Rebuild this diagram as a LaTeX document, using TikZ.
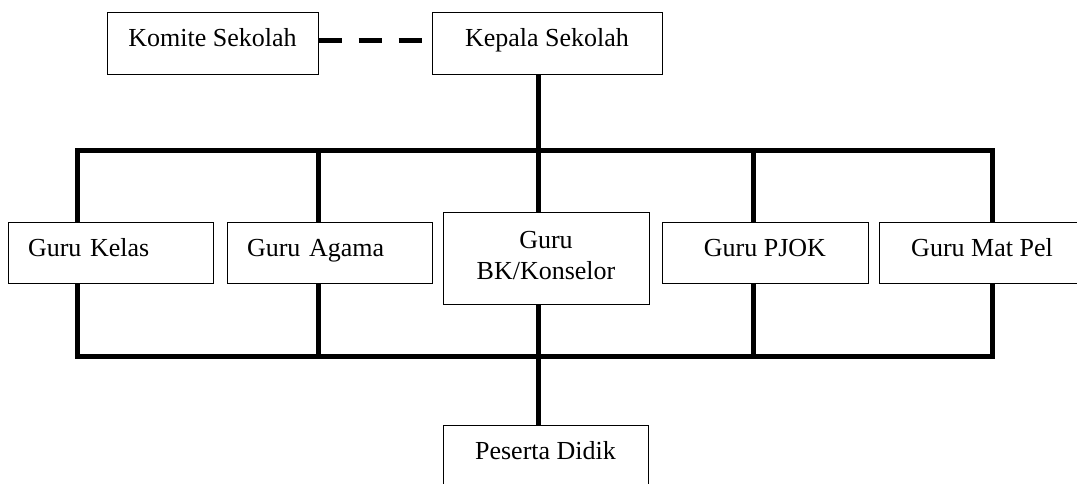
\documentclass[tikz,border=0pt]{standalone}
\usepackage{fontspec}
\setmainfont{Liberation Serif}
\newcommand{\orgfont}{\fontsize{26}{31}\selectfont}
\begin{document}
\begin{tikzpicture}[x=1pt,y=-1pt,
  orgbox/.style={draw, line width=1pt, font=\orgfont, inner xsep=0pt, inner ysep=0pt, align=center},
  oneline/.style={orgbox, text height=15.6pt, text depth=8.6pt, minimum height=61pt},
  leftbox/.style={oneline, text width=165pt, inner xsep=20pt, align=left},
  bus/.style={line width=5pt, line join=miter},
  dashline/.style={line width=5pt, dash pattern=on 23pt off 17pt}]
  \useasboundingbox (0,0) rectangle (1077,483);
  \clip (0,0) rectangle (1077,483);

  % top level
  \node[oneline, minimum width=211pt, minimum height=62pt] (komite) at (212.5,43) {Komite Sekolah};
  \node[oneline, minimum width=230pt, minimum height=62pt] (kepala) at (547,43) {Kepala Sekolah};

  % teachers
  \node[leftbox] (kelas) at (110.5,252.5) {Guru Kelas};
  \node[leftbox] (agama) at (329.5,252.5) {Guru Agama};
  \node[orgbox, minimum width=206pt, minimum height=92pt, text depth=6pt] (bk) at (546,258) {Guru\\BK/Konselor};
  \node[oneline, minimum width=206pt] (pjok) at (765,252.5) {Guru PJOK};
  \node[oneline, minimum width=206pt] (matpel) at (982,252.5) {Guru Mat Pel};

  % students
  \node[oneline, minimum width=205pt, minimum height=62pt] (peserta) at (545.5,456) {Peserta Didik};

  % bus columns
  \coordinate (tl) at (77,150);
  \coordinate (tr) at (992,150);
  \coordinate (bl) at (77,356);
  \coordinate (br) at (992,356);
  \coordinate (ca) at (318,150);
  \coordinate (cc) at (538,150);
  \coordinate (cp) at (753,150);

  % committee link
  \draw[dashline] ([yshift=3pt]komite.east) -- ([yshift=3pt]kepala.west);

  % head to the teacher bus
  \draw[bus] (kepala.south -| cc) -- (cc);

  % upper bus
  \draw[bus] (kelas.north -| tl) |- (tr) -- (matpel.north -| tr);
  \draw[bus] (agama.north -| ca) -- (ca);
  \draw[bus] (bk.north -| cc) -- (cc);
  \draw[bus] (pjok.north -| cp) -- (cp);

  % lower bus
  \draw[bus] (kelas.south -| bl) |- (br) -- (matpel.south -| br);
  \draw[bus] (agama.south -| ca) -- (ca |- bl);
  \draw[bus] (pjok.south -| cp) -- (cp |- bl);
  \draw[bus] (bk.south -| cc) -- (peserta.north -| cc);
\end{tikzpicture}
\end{document}
